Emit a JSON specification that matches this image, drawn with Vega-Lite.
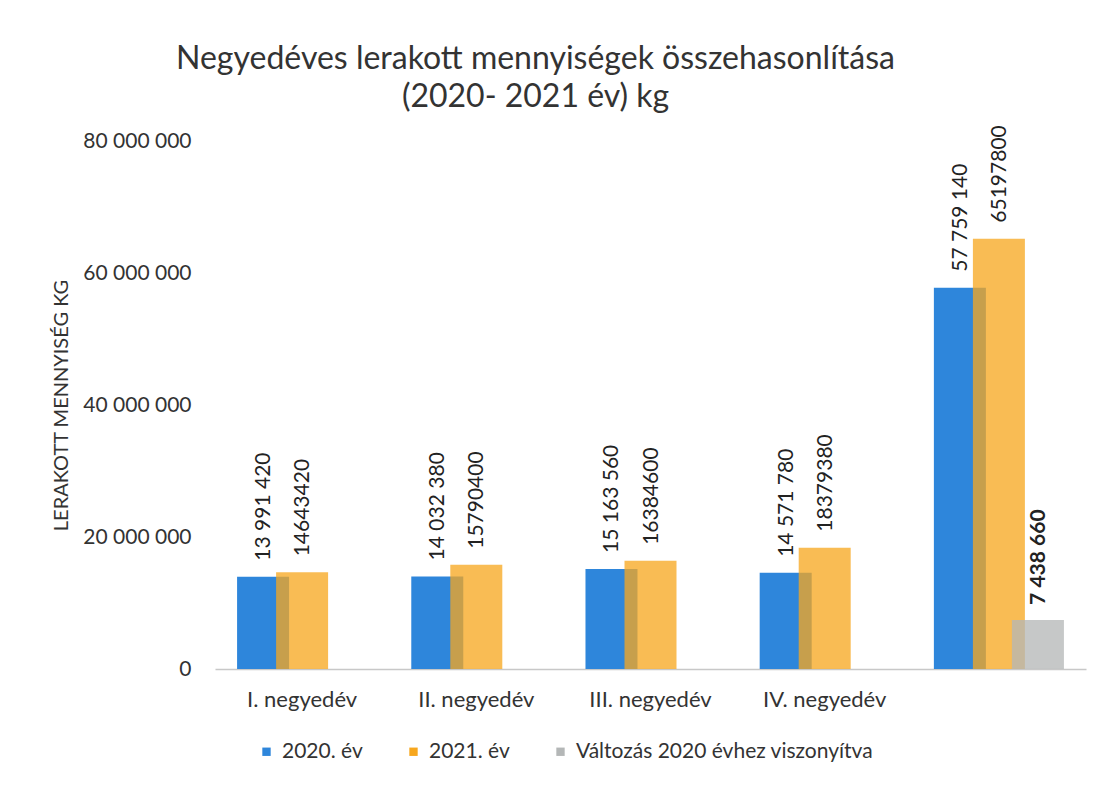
{
  "$schema": "https://vega.github.io/schema/vega-lite/v6.json",
  "autosize": "none",
  "width": 871,
  "height": 528,
  "padding": {"left": 215, "top": 141, "right": 22, "bottom": 116},
  "background": "white",
  "config": {
    "view": {"stroke": null},
    "font": "Lato",
    "locale": {"number": {"decimal": ",", "thousands": " ", "grouping": [3], "currency": ["", ""]}}
  },
  "title": {
    "text": ["Negyedéves lerakott mennyiségek összehasonlítása", "(2020- 2021 év) kg"],
    "fontSize": 32,
    "fontWeight": "normal",
    "color": "#333333",
    "anchor": "middle",
    "dx": -115,
    "offset": 11,
    "lineHeight": 38
  },
  "data": {
    "values": [
      {"quarter": "I. negyedév", "series": "2020. év", "value": 13991420, "label": "13 991 420"},
      {"quarter": "I. negyedév", "series": "2021. év", "value": 14643420, "label": "14643420"},
      {"quarter": "II. negyedév", "series": "2020. év", "value": 14032380, "label": "14 032 380"},
      {"quarter": "II. negyedév", "series": "2021. év", "value": 15790400, "label": "15790400"},
      {"quarter": "III. negyedév", "series": "2020. év", "value": 15163560, "label": "15 163 560"},
      {"quarter": "III. negyedév", "series": "2021. év", "value": 16384600, "label": "16384600"},
      {"quarter": "IV. negyedév", "series": "2020. év", "value": 14571780, "label": "14 571 780"},
      {"quarter": "IV. negyedév", "series": "2021. év", "value": 18379380, "label": "18379380"},
      {"quarter": "", "series": "2020. év", "value": 57759140, "label": "57 759 140"},
      {"quarter": "", "series": "2021. év", "value": 65197800, "label": "65197800"},
      {"quarter": "", "series": "Változás 2020 évhez viszonyítva", "value": 7438660, "label": "7 438 660"}
    ]
  },
  "encoding": {
    "x": {
      "field": "quarter",
      "type": "nominal",
      "sort": null,
      "scale": {"paddingInner": 0.328, "paddingOuter": 0.164},
      "axis": {
        "title": null,
        "labelAngle": 0,
        "labelFontSize": 22,
        "labelColor": "#333333",
        "labelPadding": 20,
        "ticks": false,
        "domainColor": "#c8c8c8",
        "domainWidth": 1.5,
        "grid": false
      }
    },
    "xOffset": {
      "field": "series",
      "type": "nominal",
      "scale": {
        "domain": ["2020. év", "2021. év", "Változás 2020 évhez viszonyítva"],
        "paddingInner": 0,
        "paddingOuter": 0
      }
    },
    "y": {
      "field": "value",
      "type": "quantitative",
      "scale": {"domain": [0, 80000000], "nice": false},
      "axis": {
        "title": "LERAKOTT MENNYISÉG KG",
        "titleFontSize": 20,
        "titleFontWeight": "normal",
        "titleColor": "#333333",
        "titlePadding": 11,
        "values": [0, 20000000, 40000000, 60000000, 80000000],
        "format": ",d",
        "labelFontSize": 21,
        "labelColor": "#333333",
        "labelPadding": 24,
        "ticks": false,
        "domain": false,
        "grid": false
      }
    }
  },
  "layer": [
    {
      "mark": {"type": "bar", "width": 52},
      "encoding": {
        "color": {
          "field": "series",
          "type": "nominal",
          "scale": {
            "domain": ["2020. év", "2021. év", "Változás 2020 évhez viszonyítva"],
            "range": ["#2E86DB", "#F7A71E", "#B4B7B7"]
          },
          "legend": {
            "title": null,
            "orient": "none",
            "direction": "horizontal",
            "legendX": 41,
            "legendY": 600,
            "symbolType": "square",
            "symbolSize": 70,
            "symbolStrokeWidth": 0,
            "labelFontSize": 21,
            "labelColor": "#333333",
            "labelOffset": 5,
            "labelLimit": 0,
            "columnPadding": 40
          }
        },
        "opacity": {
          "condition": {"test": "datum.series === '2020. év'", "value": 1},
          "value": 0.76
        }
      }
    },
    {
      "transform": [{"filter": "datum.series !== 'Változás 2020 évhez viszonyítva'"}],
      "mark": {"type": "text", "angle": 270, "align": "left", "baseline": "middle", "dx": 16, "dy": 1, "fontSize": 21, "color": "#222222"},
      "encoding": {"text": {"field": "label"}}
    },
    {
      "transform": [{"filter": "datum.series === 'Változás 2020 évhez viszonyítva'"}],
      "mark": {"type": "text", "angle": 270, "align": "left", "baseline": "middle", "dx": 15, "dy": 1, "fontSize": 21, "fontWeight": "bold", "color": "#222222"},
      "encoding": {"text": {"field": "label"}}
    }
  ]
}
